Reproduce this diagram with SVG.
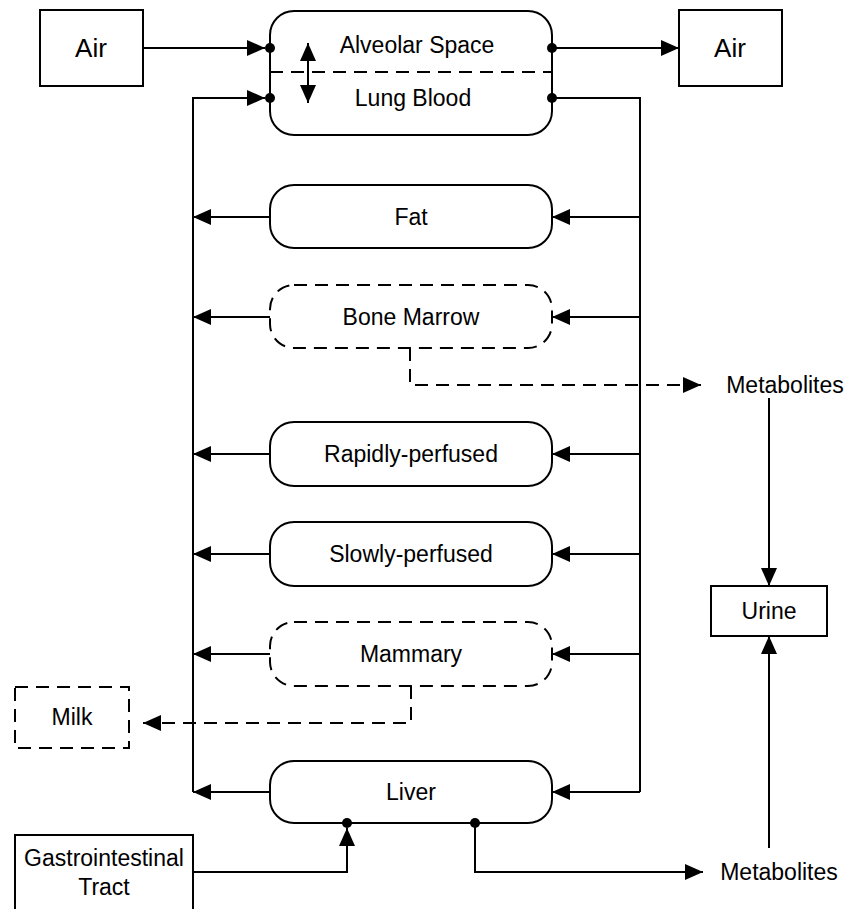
<svg xmlns="http://www.w3.org/2000/svg" width="848" height="909" viewBox="0 0 848 909">
<style>
  .box{fill:#fff;stroke:#000;stroke-width:2}
  .dash{stroke-dasharray:13 8}
  .ln{fill:none;stroke:#000;stroke-width:2}
  .t{font-family:"Liberation Sans",Arial,sans-serif;font-size:23px;fill:#000;text-anchor:middle;dominant-baseline:central}
  .big{font-size:26px}
  .dot{fill:#000}
</style>
<defs>
  <marker id="arr" viewBox="0 0 18 16" refX="18" refY="8" markerWidth="18" markerHeight="16" orient="auto" markerUnits="userSpaceOnUse">
    <path d="M0,0 L18,8 L0,16 z" fill="#000"/>
  </marker>
  <marker id="arrs" viewBox="0 0 18 16" refX="18" refY="8" markerWidth="18" markerHeight="16" orient="auto-start-reverse" markerUnits="userSpaceOnUse">
    <path d="M0,0 L18,8 L0,16 z" fill="#000"/>
  </marker>
</defs>
<rect width="848" height="909" fill="#fff"/>

<g id="air-in">
  <rect class="box" x="40" y="10" width="103" height="76"/>
  <text class="t big" x="91" y="48">Air</text>
</g>
<g id="air-out">
  <rect class="box" x="679" y="10" width="103" height="76"/>
  <text class="t big" x="730" y="48">Air</text>
</g>
<g id="lung">
  <rect class="box" x="270" y="11" width="282" height="124" rx="24" ry="24"/>
  <line class="ln dash" x1="270" y1="72" x2="552" y2="72"/>
  <line class="ln" x1="308" y1="43" x2="308" y2="103" marker-start="url(#arrs)" marker-end="url(#arr)"/>
  <text class="t" x="417" y="45">Alveolar Space</text>
  <text class="t" x="413" y="98">Lung Blood</text>
</g>
<g id="fat">
  <rect class="box" x="270" y="185" width="282" height="63" rx="24" ry="24"/>
  <text class="t" x="411" y="217">Fat</text>
</g>
<g id="bone-marrow">
  <rect class="box dash" x="270" y="285" width="282" height="63" rx="24" ry="24"/>
  <text class="t" x="411" y="317">Bone Marrow</text>
</g>
<g id="rapidly">
  <rect class="box" x="270" y="422" width="282" height="64" rx="24" ry="24"/>
  <text class="t" x="411" y="454">Rapidly-perfused</text>
</g>
<g id="slowly">
  <rect class="box" x="270" y="522" width="282" height="64" rx="24" ry="24"/>
  <text class="t" x="411" y="554">Slowly-perfused</text>
</g>
<g id="mammary">
  <rect class="box dash" x="270" y="622" width="282" height="64" rx="24" ry="24"/>
  <text class="t" x="411" y="654">Mammary</text>
</g>
<g id="liver">
  <rect class="box" x="270" y="761" width="282" height="62" rx="24" ry="24"/>
  <text class="t" x="411" y="792">Liver</text>
</g>
<g id="milk">
  <rect class="box dash" x="15" y="687" width="114" height="61"/>
  <text class="t" x="72" y="717">Milk</text>
</g>
<g id="gi">
  <rect class="box" x="15" y="835" width="178" height="90"/>
  <text class="t" x="104" y="858">Gastrointestinal</text>
  <text class="t" x="104" y="887">Tract</text>
</g>
<g id="metabolites-1">
  <text class="t" x="785" y="385">Metabolites</text>
</g>
<g id="urine">
  <rect class="box" x="711" y="586" width="116" height="50"/>
  <text class="t" x="769" y="611">Urine</text>
</g>
<g id="metabolites-2">
  <text class="t" x="779" y="872">Metabolites</text>
</g>

<g id="connectors">
  <line class="ln" x1="143" y1="48" x2="265" y2="48" marker-end="url(#arr)"/>
  <line class="ln" x1="552" y1="48" x2="679" y2="48" marker-end="url(#arr)"/>
  <polyline class="ln" points="552,98 640,98 640,792"/>
  <polyline class="ln" points="193,792 193,98 265,98" marker-end="url(#arr)"/>
  <line class="ln" x1="640" y1="217" x2="552" y2="217" marker-end="url(#arr)"/>
  <line class="ln" x1="640" y1="317" x2="552" y2="317" marker-end="url(#arr)"/>
  <line class="ln" x1="640" y1="454" x2="552" y2="454" marker-end="url(#arr)"/>
  <line class="ln" x1="640" y1="554" x2="552" y2="554" marker-end="url(#arr)"/>
  <line class="ln" x1="640" y1="654" x2="552" y2="654" marker-end="url(#arr)"/>
  <line class="ln" x1="640" y1="792" x2="552" y2="792" marker-end="url(#arr)"/>
  <line class="ln" x1="270" y1="217" x2="193" y2="217" marker-end="url(#arr)"/>
  <line class="ln" x1="270" y1="317" x2="193" y2="317" marker-end="url(#arr)"/>
  <line class="ln" x1="270" y1="454" x2="193" y2="454" marker-end="url(#arr)"/>
  <line class="ln" x1="270" y1="554" x2="193" y2="554" marker-end="url(#arr)"/>
  <line class="ln" x1="270" y1="654" x2="193" y2="654" marker-end="url(#arr)"/>
  <line class="ln" x1="270" y1="792" x2="193" y2="792" marker-end="url(#arr)"/>
  <polyline class="ln dash" points="410,348 410,385 701,385" marker-end="url(#arr)"/>
  <polyline class="ln dash" points="411,686 411,723 143,723" marker-end="url(#arr)"/>
  <polyline class="ln" points="193,872 347,872 347,828" marker-end="url(#arr)"/>
  <polyline class="ln" points="475,823 475,872 703,872" marker-end="url(#arr)"/>
  <line class="ln" x1="769" y1="398" x2="769" y2="586" marker-end="url(#arr)"/>
  <line class="ln" x1="769" y1="848" x2="769" y2="636" marker-end="url(#arr)"/>
  <circle class="dot" cx="270" cy="48" r="5"/>
  <circle class="dot" cx="270" cy="98" r="5"/>
  <circle class="dot" cx="552" cy="48" r="5"/>
  <circle class="dot" cx="552" cy="98" r="5"/>
  <circle class="dot" cx="347" cy="823" r="5"/>
  <circle class="dot" cx="475" cy="823" r="5"/>
</g>
</svg>
